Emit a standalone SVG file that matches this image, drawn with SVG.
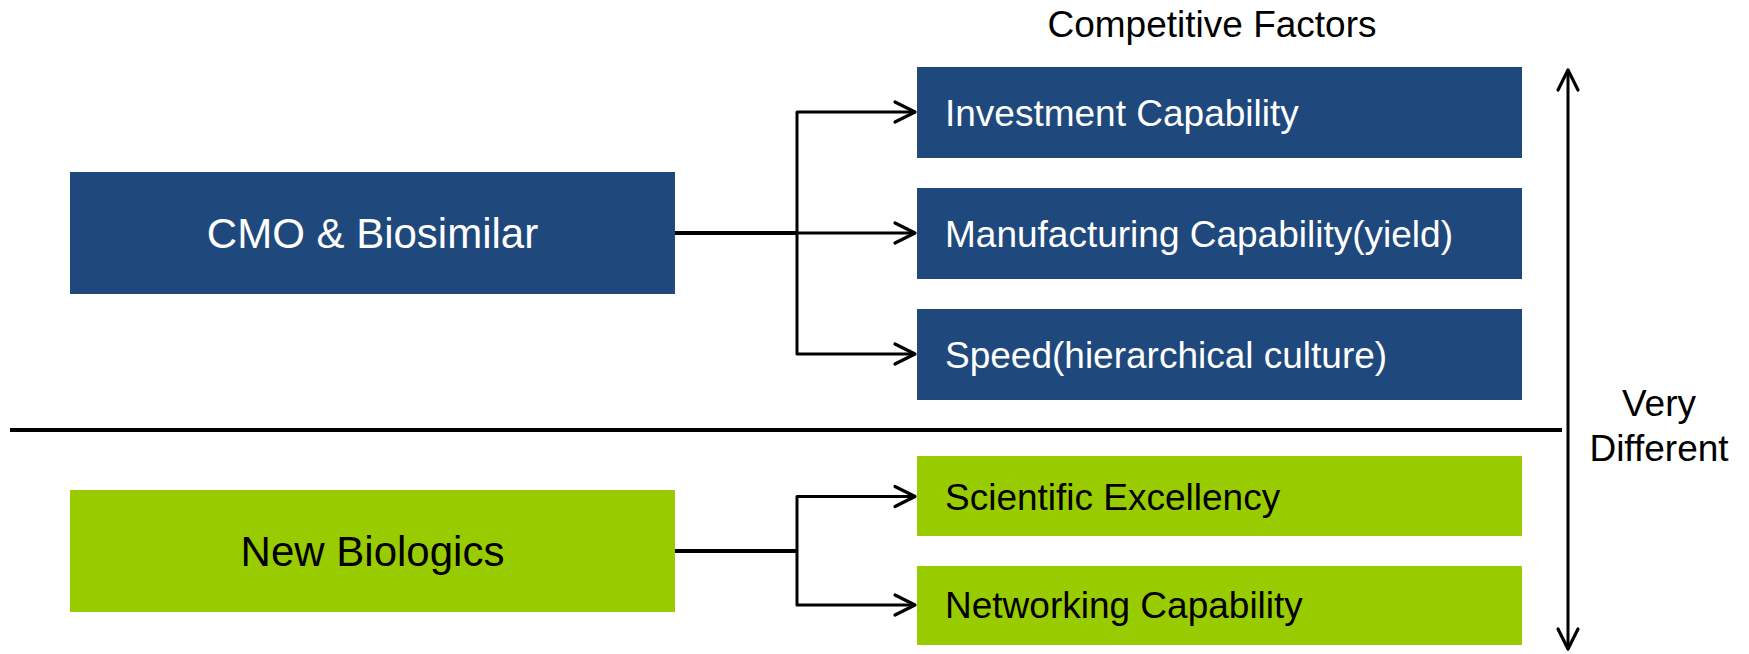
<svg xmlns="http://www.w3.org/2000/svg" width="1749" height="654" viewBox="0 0 1749 654">
  <style>
    text { font-family: "Liberation Sans", Arial, sans-serif; }
    .blue { fill: #1F497D; }
    .green { fill: #99CC00; }
    .wt { fill: #FFFFFF; }
    .bk { fill: #000000; }
    .big { font-size: 42px; }
    .med { font-size: 37px; }
    .main { stroke: #000; stroke-width: 4; fill: none; }
    .br { stroke: #000; stroke-width: 3; fill: none; stroke-linejoin: round; }
  </style>
  <defs>
    <marker id="arr" markerUnits="userSpaceOnUse" viewBox="-24 -13 27 26" markerWidth="27" markerHeight="26" refX="0" refY="0" orient="auto-start-reverse">
      <path d="M-20,-10 L0,0 L-20,10" fill="none" stroke="#000" stroke-width="3.2" stroke-linecap="round" stroke-linejoin="round"/>
    </marker>
  </defs>
  <rect width="1749" height="654" fill="#FFFFFF"/>

  <text id="title" x="1212" y="37" class="med bk" text-anchor="middle">Competitive Factors</text>

  <g id="connectors">
    <line x1="10" y1="430" x2="1562" y2="430" stroke="#000" stroke-width="4"/>
    <line x1="1568" y1="70" x2="1568" y2="649" stroke="#000" stroke-width="3" marker-start="url(#arr)" marker-end="url(#arr)"/>
    <line class="main" x1="675" y1="233" x2="797" y2="233"/>
    <path class="br" d="M797,233 L915,233" marker-end="url(#arr)"/>
    <path class="br" d="M915,112 L797,112 L797,354 L915,354" marker-start="url(#arr)" marker-end="url(#arr)"/>
    <line class="main" x1="675" y1="551" x2="797" y2="551"/>
    <path class="br" d="M915,496.5 L797,496.5 L797,605 L915,605" marker-start="url(#arr)" marker-end="url(#arr)"/>
  </g>

  <g id="cmo">
    <rect class="blue" x="70" y="172" width="605" height="122"/>
    <text x="372.5" y="248" class="big wt" text-anchor="middle">CMO &amp; Biosimilar</text>
  </g>
  <g id="newbio">
    <rect class="green" x="70" y="490" width="605" height="122"/>
    <text x="372.5" y="566" class="big bk" text-anchor="middle">New Biologics</text>
  </g>

  <g id="investment">
    <rect class="blue" x="917" y="67" width="605" height="91"/>
    <text x="945" y="126" class="med wt">Investment Capability</text>
  </g>
  <g id="manufacturing">
    <rect class="blue" x="917" y="188" width="605" height="91"/>
    <text x="945" y="247" class="med wt">Manufacturing Capability(yield)</text>
  </g>
  <g id="speed">
    <rect class="blue" x="917" y="309" width="605" height="91"/>
    <text x="945" y="368" class="med wt">Speed(hierarchical culture)</text>
  </g>
  <g id="scientific">
    <rect class="green" x="917" y="456" width="605" height="80"/>
    <text x="945" y="510" class="med bk">Scientific Excellency</text>
  </g>
  <g id="networking">
    <rect class="green" x="917" y="566" width="605" height="79"/>
    <text x="945" y="618" class="med bk">Networking Capability</text>
  </g>

  <g id="diff-label">
    <text x="1659" y="416" class="med bk" text-anchor="middle">Very</text>
    <text x="1659" y="461" class="med bk" text-anchor="middle">Different</text>
  </g>
</svg>
